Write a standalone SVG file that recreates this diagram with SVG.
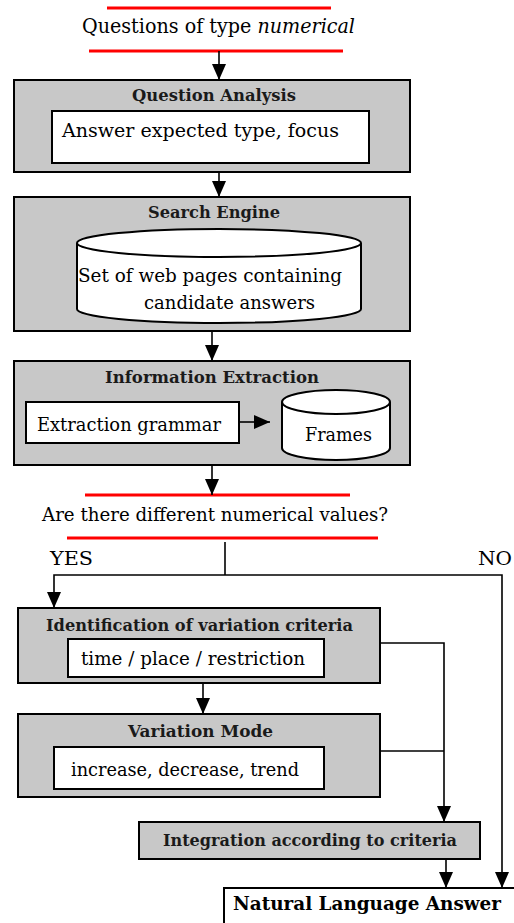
<svg xmlns="http://www.w3.org/2000/svg" width="514" height="923" viewBox="0 0 514 923">
<defs>
<marker id="ah" markerUnits="userSpaceOnUse" markerWidth="16" markerHeight="16" refX="16" refY="7" orient="auto" viewBox="0 0 16 14">
<path d="M0,0 L16,7 L0,14 Z" fill="#000"/>
</marker>
</defs>
<style>
.outer{fill:#c8c8c8;stroke:#000;stroke-width:2}
.inner{fill:#fff;stroke:#000;stroke-width:2}
.red{stroke:#f00;stroke-width:3}
.ln{fill:none;stroke:#000;stroke-width:1.6}
.arr{fill:none;stroke:#000;stroke-width:1.6;marker-end:url(#ah)}
.t{font-family:"DejaVu Serif","Liberation Serif",serif;font-size:19px;fill:#000}
.b{font-family:"DejaVu Serif","Liberation Serif",serif;font-size:17px;font-weight:bold;fill:#1a1a1a}
</style>
<g id="start">
<line class="red" x1="107" y1="8" x2="331" y2="8"/>
<text class="t" x="82" y="33" textLength="273" lengthAdjust="spacingAndGlyphs" style="font-size:20px">Questions of type <tspan font-style="italic">numerical</tspan></text>
<line class="red" x1="89" y1="51" x2="343" y2="51"/>
</g>
<g id="question-analysis">
<rect class="outer" x="14" y="80" width="396" height="92"/>
<text class="b" x="132" y="101" textLength="164" lengthAdjust="spacingAndGlyphs">Question Analysis</text>
<rect class="inner" x="52" y="111" width="317" height="52"/>
<text class="t" x="62" y="137" textLength="277" lengthAdjust="spacingAndGlyphs">Answer expected type, focus</text>
</g>
<g id="search-engine">
<rect class="outer" x="14" y="197" width="396" height="134"/>
<text class="b" x="148" y="218" textLength="132" lengthAdjust="spacingAndGlyphs">Search Engine</text>
<path class="inner" d="M77,243 A142,14 0 0 1 361,243 L361,309 A142,14 0 0 1 77,309 Z"/>
<path class="ln" d="M77,243 A142,14 0 0 0 361,243" style="stroke-width:2"/>
<text class="t" x="78" y="282" textLength="264" lengthAdjust="spacingAndGlyphs">Set of web pages containing</text>
<text class="t" x="144" y="309" textLength="171" lengthAdjust="spacingAndGlyphs">candidate answers</text>
</g>
<g id="information-extraction">
<rect class="outer" x="14" y="361" width="396" height="104"/>
<text class="b" x="105" y="383" textLength="214" lengthAdjust="spacingAndGlyphs">Information Extraction</text>
<rect class="inner" x="26" y="402" width="213" height="41"/>
<text class="t" x="37" y="431" textLength="184" lengthAdjust="spacingAndGlyphs">Extraction grammar</text>
<path class="inner" d="M282,402 A54,12 0 0 1 390,402 L390,448 A54,12 0 0 1 282,448 Z"/>
<path class="ln" d="M282,402 A54,12 0 0 0 390,402" style="stroke-width:2"/>
<text class="t" x="305" y="441" textLength="67" lengthAdjust="spacingAndGlyphs">Frames</text>
</g>
<g id="decision">
<line class="red" x1="85" y1="495" x2="350" y2="495"/>
<text class="t" x="42" y="521" textLength="346" lengthAdjust="spacingAndGlyphs">Are there different numerical values?</text>
<line class="red" x1="67" y1="538" x2="378" y2="538"/>
<text class="t" x="50" y="565" textLength="43" lengthAdjust="spacingAndGlyphs">YES</text>
<text class="t" x="478" y="565" textLength="34" lengthAdjust="spacingAndGlyphs">NO</text>
</g>
<g id="identification">
<rect class="outer" x="18" y="608" width="362" height="75"/>
<text class="b" x="46" y="631" textLength="307" lengthAdjust="spacingAndGlyphs">Identification of variation criteria</text>
<rect class="inner" x="68" y="639" width="256" height="38"/>
<text class="t" x="81" y="665" textLength="224" lengthAdjust="spacingAndGlyphs">time / place / restriction</text>
</g>
<g id="variation-mode">
<rect class="outer" x="18" y="714" width="362" height="83"/>
<text class="b" x="128" y="737" textLength="145" lengthAdjust="spacingAndGlyphs">Variation Mode</text>
<rect class="inner" x="54" y="747" width="270" height="42"/>
<text class="t" x="71" y="776" textLength="228" lengthAdjust="spacingAndGlyphs">increase, decrease, trend</text>
</g>
<g id="integration">
<rect class="outer" x="139" y="822" width="341" height="37"/>
<text class="b" x="163" y="846" textLength="294" lengthAdjust="spacingAndGlyphs">Integration according to criteria</text>
</g>
<g id="answer">
<rect x="224" y="888" width="290" height="35" fill="#fff"/>
<path class="ln" d="M514,888 H224 V923" style="stroke-width:2"/>
<text class="t" x="233" y="910" textLength="268" lengthAdjust="spacingAndGlyphs" style="font-weight:bold;font-size:19px">Natural Language Answer</text>
</g>
<g id="connectors">
<line class="arr" x1="219" y1="51" x2="219" y2="80"/>
<line class="arr" x1="219" y1="172" x2="219" y2="197"/>
<line class="arr" x1="212" y1="331" x2="212" y2="361"/>
<line class="arr" x1="239" y1="422" x2="270" y2="422"/>
<line class="arr" x1="212" y1="465" x2="212" y2="495"/>
<line class="ln" x1="225" y1="542" x2="225" y2="575"/>
<polyline class="arr" points="225,575 54,575 54,608"/>
<polyline class="arr" points="225,575 502,575 502,888"/>
<polyline class="ln" points="380,643 444,643 444,751"/>
<line class="ln" x1="380" y1="751" x2="444" y2="751"/>
<line class="arr" x1="444" y1="751" x2="444" y2="822"/>
<line class="arr" x1="446" y1="859" x2="446" y2="888"/>
<line class="arr" x1="203" y1="683" x2="203" y2="714"/>
</g>
</svg>
